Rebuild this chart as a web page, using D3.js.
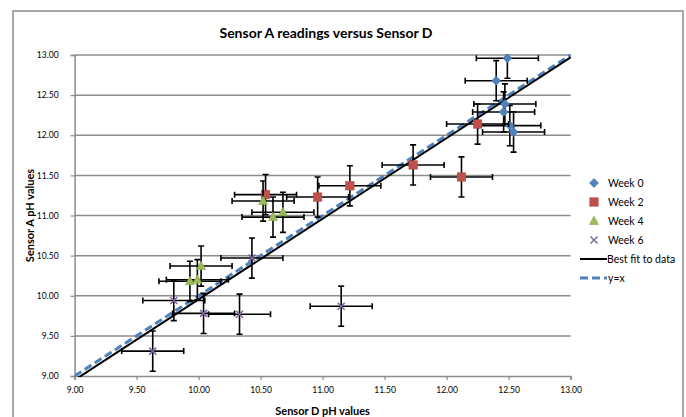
<!DOCTYPE html>
<html><head><meta charset="utf-8">
<script src="https://cdn.jsdelivr.net/npm/d3@7"></script>
<style>body{margin:0;background:#fff}svg{display:block}text{font-family:Lato,"Open Sans",sans-serif;fill:#000}</style>
</head><body>
<svg id="c" width="686" height="417"></svg>
<script>
// ---- data ----
const seriesNames = ["Week 0", "Week 2", "Week 4", "Week 6"];
const week0X = [12.49, 12.40, 12.47, 12.46, 12.51, 12.54];
const week0Y = [12.96, 12.68, 12.39, 12.29, 12.12, 12.04];
const week2X = [12.25, 11.73, 12.12, 11.22, 10.96, 10.54];
const week2Y = [12.14, 11.63, 11.48, 11.37, 11.23, 11.26];
const week4X = [10.52, 10.60, 10.68, 10.02, 9.93, 9.99];
const week4Y = [11.18, 10.98, 11.04, 10.37, 10.18, 10.20];
const week6X = [9.63, 9.80, 10.04, 10.33, 11.15, 10.43];
const week6Y = [9.31, 9.94, 9.78, 9.77, 9.87, 10.47];
const errorX = 0.25, errorY = 0.25;
const fitX = [9, 13], fitY = [8.95, 12.97];
const identityX = [9, 13], identityY = [9, 13];
const tickValues = [9, 9.5, 10, 10.5, 11, 11.5, 12, 12.5, 13];
const lineNames = ["Best fit to data", "y=x"];

// ---- layout ----
const svg = d3.select("#c");
const L = 74.6, R = 570.6, T = 55, B = 376;
const x = d3.scaleLinear().domain([9, 13]).range([L, R]);
const y = d3.scaleLinear().domain([9, 13]).range([B, T]);

svg.append("rect").attr("x", 13).attr("y", 11).attr("width", 670).attr("height", 420)
  .attr("fill", "#fff").attr("stroke", "#8a8a8a").attr("stroke-width", 1.5);

svg.append("defs").append("clipPath").attr("id", "pc")
  .append("rect").attr("x", L).attr("y", T - 1).attr("width", R - L + 1).attr("height", B - T + 2);

// gridlines
svg.append("g").selectAll("line").data(tickValues.filter(d => d > 9)).join("line")
  .attr("x1", L).attr("x2", R).attr("y1", d => y(d)).attr("y2", d => y(d))
  .attr("stroke", "#8c8c8c").attr("stroke-width", 1.5);

const fmt = d3.format(".2f");
const yAxis = svg.append("g").attr("transform", `translate(${L},0)`)
  .call(d3.axisLeft(y).tickValues(tickValues).tickFormat(fmt).tickSize(4).tickPadding(12));
const xAxis = svg.append("g").attr("transform", `translate(0,${B})`)
  .call(d3.axisBottom(x).tickValues(tickValues).tickFormat(fmt).tickSize(4).tickPadding(7));
[xAxis, yAxis].forEach(a => {
  a.select(".domain").attr("stroke", "#8c8c8c").attr("stroke-width", 1.5);
  a.selectAll(".tick line").attr("stroke", "#8c8c8c").attr("stroke-width", 1.2);
  a.selectAll(".tick text").attr("font-family", "Lato, sans-serif").attr("font-size", 8.5).attr("fill", "#000");
});

// lines
const lineGen = d3.line().x(d => x(d[0])).y(d => y(d[1]));
const plot = svg.append("g").attr("clip-path", "url(#pc)");
plot.append("path").datum(d3.zip(identityX, identityY)).attr("d", lineGen)
  .attr("stroke", "#4f81bd").attr("stroke-width", 3).attr("stroke-dasharray", "8,4").attr("fill", "none");
plot.append("path").datum(d3.zip(fitX, fitY)).attr("d", lineGen)
  .attr("stroke", "#000").attr("stroke-width", 2).attr("fill", "none");

// markers
const colors = ["#4f81bd", "#c0504d", "#9bbb59", "#8064a2"];
function marker(g, i, cx, cy) {
  const c = colors[i];
  if (i === 0) g.append("path").attr("d", `M${cx},${cy-4.5}L${cx+4.5},${cy}L${cx},${cy+4.5}L${cx-4.5},${cy}Z`).attr("fill", c).attr("stroke", "#3f6fa8").attr("stroke-width", 0.6);
  else if (i === 1) g.append("rect").attr("x", cx - 4.2).attr("y", cy - 4.2).attr("width", 8.4).attr("height", 8.4).attr("fill", c).attr("stroke", "#b04a47").attr("stroke-width", 0.6);
  else if (i === 2) g.append("path").attr("d", `M${cx},${cy-5}L${cx+4.5},${cy+3.5}L${cx-4.5},${cy+3.5}Z`).attr("fill", c).attr("stroke", "#8aaa4a").attr("stroke-width", 0.6);
  else {
    g.append("path").attr("d", `M${cx-3.5},${cy-3.5}L${cx+3.5},${cy+3.5}M${cx+3.5},${cy-3.5}L${cx-3.5},${cy+3.5}`).attr("stroke", c).attr("stroke-width", 1.5).attr("fill", "none");
  }
}

const series = [[week0X, week0Y], [week2X, week2Y], [week4X, week4Y], [week6X, week6Y]];
const cap = 3;
series.forEach(([xs, ys], i) => {
  const g = plot.append("g");
  const pts = d3.zip(xs, ys);
  const eb = g.append("g").attr("stroke", "#000").attr("stroke-width", 1.6);
  pts.forEach(([px, py]) => {
    const x0 = x(px - errorX), x1 = x(px + errorX), cx = x(px);
    const y0 = y(py - errorY), y1 = y(py + errorY), cy = y(py);
    eb.append("line").attr("x1", x0).attr("x2", x1).attr("y1", cy).attr("y2", cy);
    eb.append("line").attr("x1", x0).attr("x2", x0).attr("y1", cy - cap).attr("y2", cy + cap);
    eb.append("line").attr("x1", x1).attr("x2", x1).attr("y1", cy - cap).attr("y2", cy + cap);
    eb.append("line").attr("x1", cx).attr("x2", cx).attr("y1", y0).attr("y2", y1);
    eb.append("line").attr("x1", cx - cap).attr("x2", cx + cap).attr("y1", y0).attr("y2", y0);
    eb.append("line").attr("x1", cx - cap).attr("x2", cx + cap).attr("y1", y1).attr("y2", y1);
  });
  pts.forEach(([px, py]) => marker(g, i, x(px), y(py)));
});

// titles
svg.append("text").attr("x", 326).attr("y", 38).attr("text-anchor", "middle")
  .attr("font-weight", "bold").attr("font-size", 14).text("Sensor A readings versus Sensor D");
svg.append("text").attr("x", (L + R) / 2).attr("y", 415).attr("text-anchor", "middle")
  .attr("font-weight", "bold").attr("font-size", 11).text("Sensor D pH values");
svg.append("text").attr("transform", `translate(34,${(T + B) / 2}) rotate(-90)`).attr("text-anchor", "middle")
  .attr("font-weight", "bold").attr("font-size", 11).text("Sensor A pH values");

// legend
const lg = svg.append("g");
const ly0 = 183, lstep = 19;
seriesNames.forEach((n, i) => {
  const cy = ly0 + i * lstep;
  marker(lg, i, 594, cy);
  lg.append("text").attr("x", 608).attr("y", cy + 3.5).attr("font-size", 10.5).text(n);
});
lineNames.forEach((n, j) => {
  const cy = ly0 + (4 + j) * lstep;
  lg.append("line").attr("x1", 580).attr("x2", 607).attr("y1", cy).attr("y2", cy)
    .attr("stroke", j === 0 ? "#000" : "#4f81bd").attr("stroke-width", j === 0 ? 2 : 3)
    .attr("stroke-dasharray", j === 0 ? null : "8,4");
  lg.append("text").attr("x", j === 0 ? 607 : 608).attr("y", cy + 3.5).attr("font-size", 10.5).text(n);
});
</script>
</body></html>
